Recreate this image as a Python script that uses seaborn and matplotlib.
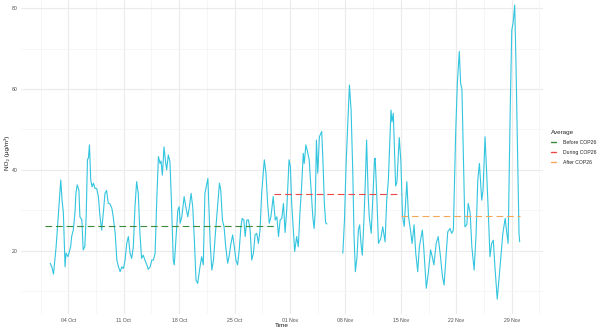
import numpy as np
import pandas as pd
import matplotlib
matplotlib.use("Agg")
import matplotlib.pyplot as plt
import matplotlib.dates as mdates
from matplotlib.ticker import FixedLocator
from matplotlib.lines import Line2D
import seaborn as sns

# NO2 readings, hours after 2021-10-01 00:00; two continuous runs with a gap in between
hours_a = [17, 22, 27, 35, 42, 47, 49, 53, 57, 62, 65, 71, 75, 79, 82, 87, 92, 95, 99, 104,
           107, 113, 117, 122, 126, 130, 133, 136, 140, 144, 148, 153, 158, 163, 168, 173, 178,
           183, 188, 193, 198, 204, 208, 214, 219, 224, 229, 234, 239, 244, 249, 254, 259, 264,
           269, 274, 279, 284, 289, 294, 299, 304, 310, 314, 320, 325, 330, 335, 340, 345, 350,
           353, 357, 362, 366, 370, 375, 380, 385, 390, 393, 398, 404, 408, 411, 416, 423, 428,
           434, 439, 444, 449, 454, 459, 464, 471, 476, 481, 486, 495, 498, 502, 507, 512, 517,
           525, 530, 534, 539, 544, 549, 555, 559, 565, 570, 575, 580, 585, 590, 595, 599, 604,
           608, 613, 618, 623, 628, 633, 638, 643, 648, 653, 658, 666, 671, 676, 681, 686, 693,
           699, 704, 709, 714, 719, 724, 729, 734, 741, 745, 749, 754, 758, 764, 769, 774, 779,
           784, 787, 792, 796, 802, 808, 813, 817, 820, 824, 828, 833, 840, 844, 848, 852, 856]
no2_a = [16.9, 16.0, 14.2, 21.0, 29.3, 35.4, 37.5, 32.5, 29.3, 16.0, 19.4, 18.5, 19.8, 21.0,
         23.5, 25.1, 29.3, 34.2, 36.3, 35.0, 28.4, 27.6, 20.2, 21.0, 28.4, 42.5, 43.0, 46.2,
         37.5, 35.8, 36.7, 35.4, 35.4, 33.4, 28.4, 25.1, 29.3, 34.2, 34.9, 31.7, 31.6, 30.5,
         28.4, 24.3, 17.7, 16.0, 14.8, 16.0, 15.6, 17.7, 21.8, 23.5, 19.4, 18.1, 21.0, 30.9,
         37.1, 34.2, 24.3, 18.1, 18.9, 17.7, 16.5, 15.4, 16.0, 17.7, 17.7, 19.4, 32.5, 43.3,
         41.6, 42.2, 38.7, 45.7, 42.5, 40.0, 43.7, 42.0, 30.9, 17.7, 16.5, 22.6, 30.1, 30.9,
         26.8, 28.4, 33.4, 30.9, 28.4, 30.9, 34.2, 30.9, 22.6, 12.7, 11.9, 16.0, 18.5, 16.5,
         34.2, 37.9, 30.9, 21.8, 15.2, 17.7, 23.5, 31.7, 36.7, 35.0, 27.6, 25.9, 21.0, 16.9,
         18.5, 21.8, 23.9, 21.0, 17.7, 16.5, 20.2, 25.9, 28.0, 27.6, 23.5, 27.6, 27.6, 25.1,
         17.7, 19.4, 23.9, 24.3, 21.8, 25.1, 34.2, 42.5, 39.2, 31.7, 26.8, 28.4, 33.4, 27.6,
         28.4, 23.5, 27.6, 28.0, 31.7, 24.5, 30.1, 42.5, 40.8, 31.7, 25.1, 19.8, 23.5, 21.0,
         29.3, 35.8, 44.1, 41.6, 46.2, 44.9, 42.5, 35.0, 28.4, 25.5, 29.3, 47.4, 39.2, 48.2,
         49.5, 41.6, 31.7, 26.9, 26.6]

hours_b = [904, 909, 914, 919, 924, 929, 934, 938, 942, 947, 951, 955, 959, 963, 968, 972, 976,
           981, 984, 990, 996, 1000, 1002, 1007, 1012, 1019, 1025, 1032, 1037, 1042, 1050, 1053,
           1057, 1064, 1068, 1075, 1080, 1085, 1090, 1098, 1103, 1109, 1114, 1120, 1125, 1131,
           1136, 1145, 1149, 1157, 1163, 1170, 1175, 1180, 1187, 1193, 1200, 1206, 1211, 1216,
           1222, 1229, 1234, 1239, 1246, 1251, 1257, 1261, 1265, 1269, 1274, 1280, 1284, 1290,
           1295, 1302, 1308, 1313, 1318, 1325, 1329, 1335, 1340, 1345, 1350, 1355, 1360, 1365,
           1372, 1378, 1384, 1389, 1396, 1400, 1405, 1411, 1416, 1420, 1425, 1429, 1434, 1438,
           1440]
no2_b = [19.4, 27.6, 41.6, 51.5, 61.0, 54.8, 40.0, 23.5, 14.8, 18.5, 25.1, 26.4, 21.8, 18.9,
         27.6, 36.7, 47.4, 33.4, 28.4, 24.3, 35.0, 42.5, 42.9, 33.4, 21.8, 23.0, 25.9, 22.2,
         32.5, 37.5, 54.8, 51.9, 54.0, 36.0, 37.0, 48.0, 42.0, 28.5, 26.0, 37.1, 28.5, 25.1,
         21.8, 26.4, 19.4, 14.8, 21.0, 25.1, 21.0, 10.7, 14.4, 20.2, 18.5, 16.5, 21.8, 23.5,
         18.5, 13.6, 11.5, 17.7, 24.7, 25.5, 24.3, 25.1, 49.1, 61.4, 69.3, 61.4, 60.0, 44.9,
         25.9, 26.5, 31.7, 29.3, 21.0, 15.2, 24.3, 37.5, 41.6, 32.5, 35.0, 48.2, 39.2, 29.3,
         18.5, 21.8, 22.6, 16.0, 8.0, 13.6, 19.4, 24.3, 28.0, 25.1, 21.8, 53.2, 74.6, 76.3,
         80.8, 65.5, 42.5, 24.3, 22.2]

# Period averages
periods = ["Before COP26", "During COP26", "After COP26"]
period_start = ["2021-10-01", "2021-10-30", "2021-11-15"]
period_end = ["2021-10-30", "2021-11-15", "2021-11-30"]
period_mean = [26.2, 34.1, 28.7]
period_colors = ["#3A8B3A", "#EC4646", "#F6A658"]

x_ticks = ["2021-10-04", "2021-10-11", "2021-10-18", "2021-10-25",
           "2021-11-01", "2021-11-08", "2021-11-15", "2021-11-22", "2021-11-29"]
y_ticks = [20, 40, 60, 80]

base = pd.Timestamp("2021-10-01")
series = pd.concat([
    pd.DataFrame({"time": base + pd.to_timedelta(hours_a, unit="h"), "no2": no2_a, "run": 0}),
    pd.DataFrame({"time": base + pd.to_timedelta(hours_b, unit="h"), "no2": no2_b, "run": 1}),
], ignore_index=True)

avg = pd.DataFrame({
    "time": pd.to_datetime(period_start + period_end),
    "mean": period_mean * 2,
    "period": periods * 2,
})

sns.set_style("white")
plt.rcParams["font.family"] = ["Liberation Sans", "DejaVu Sans"]

fig = plt.figure(figsize=(6.02, 3.31), dpi=100)
ax = fig.add_axes([0.0346, 0.0511, 0.8681, 0.9489])

sns.lineplot(data=series, x="time", y="no2", units="run", estimator=None,
             color="#33C5DF", lw=0.8, ax=ax, legend=False, zorder=3)
sns.lineplot(data=avg, x="time", y="mean", hue="period", hue_order=periods,
             palette=dict(zip(periods, period_colors)), estimator=None,
             lw=0.8, linestyle=(0, (6, 3.5)), ax=ax, legend=False, zorder=4)

ax.set_xlim(pd.Timestamp("2021-09-28"), pd.Timestamp("2021-12-03"))
ax.set_ylim(4.31, 82.05)

major = pd.to_datetime(x_ticks)
minor = major - pd.Timedelta(hours=84)
minor = minor.append(pd.DatetimeIndex([major[-1] + pd.Timedelta(hours=84)]))
ax.xaxis.set_major_locator(FixedLocator(mdates.date2num(major)))
ax.xaxis.set_major_formatter(mdates.DateFormatter("%d %b"))
ax.xaxis.set_minor_locator(FixedLocator(mdates.date2num(minor)))
ax.yaxis.set_major_locator(FixedLocator(y_ticks))
ax.yaxis.set_minor_locator(FixedLocator([10, 30, 50, 70]))

ax.grid(which="major", color="#EBEBEB", lw=0.8)
ax.grid(which="minor", color="#F3F3F3", lw=0.5)
ax.set_axisbelow(True)
for s in ax.spines.values():
    s.set_visible(False)
ax.tick_params(which="both", length=0, labelsize=3.7, labelcolor="#4D4D4D")
ax.tick_params(axis="x", pad=3)
ax.tick_params(axis="y", pad=2.5)

ax.set_xlabel("Time", fontsize=4.6, color="#1A1A1A")
ax.set_ylabel("NO\u2082 (\u03bcg/m\u00b3)", fontsize=4.6, color="#1A1A1A")
ax.xaxis.set_label_coords(282 / 602, 1 - 323 / 331, transform=fig.transFigure)
ax.yaxis.set_label_coords(9.5 / 602, 1 - 153 / 331, transform=fig.transFigure)

handles = [Line2D([0], [0], color=c, lw=1.0) for c in period_colors]
fig.legend(handles, periods, title="Average", loc="upper left",
           bbox_to_anchor=(551 / 602, 1 - 130 / 331), frameon=False,
           fontsize=3.7, title_fontsize=4.5, handlelength=1.0, handletextpad=1.3,
           labelspacing=0.95, borderaxespad=0, borderpad=0, alignment="left")

fig.savefig("out.png", dpi=100)
